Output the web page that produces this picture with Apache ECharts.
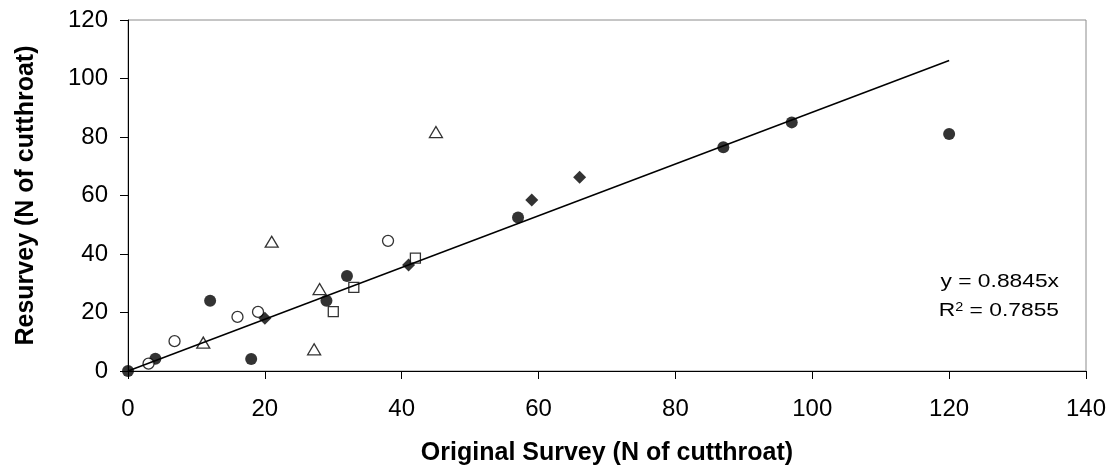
<!DOCTYPE html>
<html>
<head>
<meta charset="utf-8">
<script src="https://cdn.jsdelivr.net/npm/echarts@6/dist/echarts.min.js"></script>
<style>
html,body{margin:0;padding:0;background:#fff;}
#chart{width:1115px;height:471px;}
</style>
</head>
<body>
<div id="chart"></div>
<script>
var xTicks = [0, 20, 40, 60, 80, 100, 120, 140];
var yTicks = [0, 20, 40, 60, 80, 100, 120];

var filledCircleX = [0, 4, 12, 18, 29, 32, 57, 87, 97, 120];
var filledCircleY = [0, 4.2, 24, 4.1, 24, 32.5, 52.5, 76.5, 85, 81];
var openCircleX = [3, 6.8, 16, 19, 38];
var openCircleY = [2.5, 10.2, 18.5, 20.2, 44.5];
var triangleX = [11, 21, 27.2, 28, 45];
var triangleY = [9.7, 44.2, 7.4, 28, 81.7];
var diamondX = [20, 41, 59, 66];
var diamondY = [18, 36.2, 58.5, 66.2];
var squareX = [30, 33, 42];
var squareY = [20.3, 28.6, 38.6];

var trendSlope = 0.8845;
var trendX = [0, 120];
var eqText = 'y = 0.8845x';
var r2Value = '0.7855';

function pairs(xs, ys) { return xs.map(function (x, i) { return [x, ys[i]]; }); }

var FONT = '"Liberation Sans", Arial, sans-serif';
var chart = echarts.init(document.getElementById('chart'), null, {renderer: 'canvas'});

var option = {
  animation: false,
  backgroundColor: '#ffffff',
  grid: {left: 128, right: 29, top: 20, bottom: 99, show: true, borderColor: '#8c8c8c', borderWidth: 1, backgroundColor: 'transparent'},
  xAxis: {
    type: 'value', min: xTicks[0], max: xTicks[xTicks.length - 1], interval: 20,
    name: 'Original Survey (N of cutthroat)', nameLocation: 'middle', nameGap: 70,
    nameTextStyle: {fontFamily: FONT, fontWeight: 'bold', fontSize: 25, color: '#000'},
    axisLine: {show: true, onZero: false, lineStyle: {color: '#000', width: 1}},
    axisTick: {show: true, inside: false, length: 8, lineStyle: {color: '#000'}},
    axisLabel: {fontFamily: FONT, fontSize: 24, color: '#000', margin: 26},
    splitLine: {show: false}
  },
  yAxis: {
    type: 'value', min: yTicks[0], max: yTicks[yTicks.length - 1], interval: 20,
    name: 'Resurvey (N of cutthroat)', nameLocation: 'middle', nameGap: 89, nameRotate: 90,
    nameTextStyle: {fontFamily: FONT, fontWeight: 'bold', fontSize: 25, color: '#000'},
    axisLine: {show: true, onZero: false, lineStyle: {color: '#000', width: 1}},
    axisTick: {show: true, inside: false, length: 8, lineStyle: {color: '#000'}},
    axisLabel: {fontFamily: FONT, fontSize: 24, color: '#000', margin: 20},
    splitLine: {show: false}
  },
  series: [
    {type: 'scatter', name: 'filled circles', data: pairs(filledCircleX, filledCircleY), symbol: 'circle', symbolSize: 12,
      itemStyle: {color: '#000'}, z: 3},
    {type: 'scatter', name: 'open circles', data: pairs(openCircleX, openCircleY), symbol: 'circle', symbolSize: 11,
      itemStyle: {color: '#fff', borderColor: '#000', borderWidth: 1.3}, z: 3},
    {type: 'scatter', name: 'triangles', data: pairs(triangleX, triangleY), symbol: 'triangle', symbolSize: [13, 11],
      itemStyle: {color: '#fff', borderColor: '#000', borderWidth: 1.3}, z: 3},
    {type: 'scatter', name: 'diamonds', data: pairs(diamondX, diamondY), symbol: 'diamond', symbolSize: 13,
      itemStyle: {color: '#000'}, z: 3},
    {type: 'scatter', name: 'squares', data: pairs(squareX, squareY), symbol: 'rect', symbolSize: 10,
      itemStyle: {color: '#fff', borderColor: '#000', borderWidth: 1.3}, z: 3},
    {type: 'line', name: 'trend', data: trendX.map(function (x) { return [x, trendSlope * x]; }),
      symbol: 'none', lineStyle: {color: '#000', width: 1.5}, z: 5, silent: true}
  ],
  graphic: [
    {type: 'text', x: 1059, y: 282, scaleX: 1.2, z: 10,
      style: {text: eqText, fontFamily: FONT, fontSize: 19, fill: '#000', align: 'right', verticalAlign: 'middle'}},
    {type: 'text', x: 1059, y: 311, scaleX: 1.2, z: 10,
      style: {text: '{a|R}{s|2}{a| = ' + r2Value + '}', fontFamily: FONT, fill: '#000', align: 'right', verticalAlign: 'middle',
        rich: {a: {fontFamily: FONT, fontSize: 19, fill: '#000', color: '#000'},
               s: {fontFamily: FONT, fontSize: 12, color: '#000', fill: '#000', verticalAlign: 'top'}}}}
  ]
};
chart.setOption(option);
</script>
</body>
</html>
